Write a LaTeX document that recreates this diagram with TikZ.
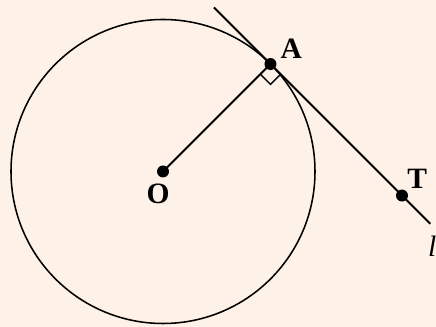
\documentclass[tikz,border=0pt]{standalone}
\usepackage{fontspec}
\setmainfont{Liberation Serif}
\usetikzlibrary{calc}
\pgfdeclarelayer{background}
\pgfsetlayers{background,main}
\definecolor{paper}{RGB}{253,241,232}

\begin{document}
\begin{tikzpicture}[
  dotpt/.style={circle,fill=black,inner sep=0pt,minimum size=0.3cm},
  ptlabel/.style={font=\fontsize{21}{24}\selectfont\bfseries,inner sep=0pt}]
\coordinate (BoxMin) at (0,0);
\coordinate (BoxMax) at (10.9,8.175);
\useasboundingbox (BoxMin) rectangle (BoxMax);

\begin{pgfonlayer}{background}
  \fill[paper] (BoxMin) rectangle (BoxMax);% paper colour
\end{pgfonlayer}

\coordinate (O) at (4.075,3.8875);
\coordinate (A) at ($(O)+(45:3.8)$);
\coordinate (T) at ($(A)+(-45:4.65)$);
\coordinate (LineStart) at ($(A)+(135:2.0)$);
\coordinate (LineEnd) at ($(A)+(-45:5.65)$);

\draw [line width=1.1pt] (O) circle (3.8);% the circle
\draw [line width=1.4pt] (LineStart) -- (LineEnd);% tangent l

% right angle at A
\draw [line width=1.1pt] ($(A)+(225:0.36)$) -- ($(A)+(225:0.36)+(-45:0.36)$) -- ($(A)+(-45:0.36)$);

\node[dotpt] (Odot) at (O) {};
\node[dotpt] (Adot) at (A) {};
\node[dotpt] (Tdot) at (T) {};
\draw [line width=1.4pt] (Odot.center) -- (Adot.center);% radius OA

\node[ptlabel] (Alabel) at ($(A)+(0.52,0.38)$) {A};
\node[ptlabel] (Olabel) at ($(O)+(-0.12,-0.55)$) {O};
\node[ptlabel] (Tlabel) at ($(T)+(0.38,0.42)$) {T};
\node[font=\fontsize{21}{24}\selectfont\itshape,inner sep=0pt] (llabel) at ($(LineEnd)+(0.05,-0.55)$) {l};
\end{tikzpicture}
\end{document}
